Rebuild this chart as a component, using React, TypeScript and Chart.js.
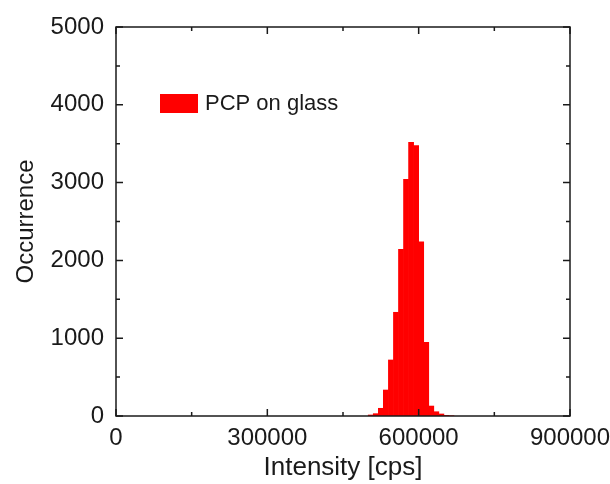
import React, { useEffect, useRef } from "react";
import { Chart, registerables } from "chart.js";

Chart.register(...registerables);

const seriesLabel = "PCP on glass";
const binCenters = [505000, 515000, 525000, 535000, 545000, 555000, 565000, 575000, 585000, 595000, 605000, 615000, 625000, 635000, 645000, 655000, 665000];
const counts = [13, 30, 99, 334, 720, 1333, 2142, 3042, 3518, 3475, 2240, 947, 128, 55, 26, 9, 4];
const xMajorTicks = [0, 300000, 600000, 900000];
const xMinorTicks = [150000, 450000, 750000];
const yMajorTicks = [0, 1000, 2000, 3000, 4000, 5000];
const yMinorTicks = [500, 1500, 2500, 3500, 4500];

const FONT = "'Liberation Sans', Arial, sans-serif";
const RED = "#ff0000";
const INK = "#1a1a1a";

const framePlugin = {
  id: "frameTicks",
  afterDatasetsDraw(chart: any) {
    const { ctx, chartArea } = chart;
    const { left, right, top, bottom } = chartArea;
    const xs = chart.scales.x;
    const ys = chart.scales.y;
    ctx.save();
    ctx.strokeStyle = INK;
    ctx.lineWidth = 1.5;
    ctx.strokeRect(left, top, right - left, bottom - top);
    const major = 7;
    const minor = 4;
    ctx.beginPath();
    const xt = (v: number, len: number) => {
      const px = xs.getPixelForValue(v);
      ctx.moveTo(px, bottom);
      ctx.lineTo(px, bottom - len);
      ctx.moveTo(px, top);
      ctx.lineTo(px, top + len);
    };
    const yt = (v: number, len: number) => {
      const py = ys.getPixelForValue(v);
      ctx.moveTo(left, py);
      ctx.lineTo(left + len, py);
      ctx.moveTo(right, py);
      ctx.lineTo(right - len, py);
    };
    xMajorTicks.forEach((v) => xt(v, major));
    xMinorTicks.forEach((v) => xt(v, minor));
    yMajorTicks.forEach((v) => yt(v, major));
    yMinorTicks.forEach((v) => yt(v, minor));
    ctx.stroke();

    // legend
    const ds = chart.data.datasets[0];
    const bx = left + 44;
    const by = top + 67;
    ctx.fillStyle = ds.backgroundColor;
    ctx.fillRect(bx, by, 38, 19);
    ctx.fillStyle = INK;
    ctx.font = `22px ${FONT}`;
    ctx.textBaseline = "middle";
    ctx.textAlign = "left";
    ctx.fillText(ds.label, bx + 45, by + 10);
    ctx.restore();
  },
};

export default function App() {
  const canvasRef = useRef<HTMLCanvasElement | null>(null);

  useEffect(() => {
    document.body.style.margin = "0";
    const canvas = canvasRef.current;
    if (!canvas) return;
    const chart = new Chart(canvas, {
      type: "bar",
      data: {
        datasets: [
          {
            label: seriesLabel,
            data: binCenters.map((x, i) => ({ x, y: counts[i] })),
            backgroundColor: RED,
            borderColor: RED,
            borderWidth: 0,
            barPercentage: 1,
            categoryPercentage: 1,
          } as any,
        ],
      },
      options: {
        responsive: false,
        animation: false,
        layout: { padding: { top: 27, right: 40, left: 0, bottom: 0 } },
        plugins: {
          legend: { display: false },
          tooltip: { enabled: false },
        },
        scales: {
          x: {
            type: "linear",
            min: 0,
            max: 900000,
            offset: false,
            grid: { display: false, drawTicks: false, offset: false },
            border: { display: false },
            ticks: {
              stepSize: 300000,
              padding: 8,
              color: INK,
              font: { family: FONT, size: 24 },
              maxRotation: 0,
              callback: (v: any) => String(v),
            },
            title: {
              display: true,
              text: "Intensity [cps]",
              color: INK,
              font: { family: FONT, size: 26 },
              padding: { top: 0, bottom: 1 },
            },
            afterFit: (s: any) => {
              s.height = 68;
              s.paddingRight = 0;
              s.paddingLeft = 0;
            },
          },
          y: {
            min: 0,
            max: 5000,
            grid: { display: false, drawTicks: false },
            border: { display: false },
            ticks: {
              stepSize: 1000,
              padding: 12,
              color: INK,
              font: { family: FONT, size: 24 },
              callback: (v: any) => String(v),
            },
            title: {
              display: true,
              text: "Occurrence",
              color: INK,
              font: { family: FONT, size: 24 },
              padding: { top: 12, bottom: 0 },
            },
            afterFit: (s: any) => {
              s.width = 116;
              s.paddingTop = 0;
              s.paddingBottom = 0;
            },
          },
        },
      },
      plugins: [framePlugin],
    });
    return () => chart.destroy();
  }, []);

  return (
    <div style={{ width: 610, height: 484, background: "#fff" }}>
      <canvas ref={canvasRef} width={610} height={484} />
    </div>
  );
}
